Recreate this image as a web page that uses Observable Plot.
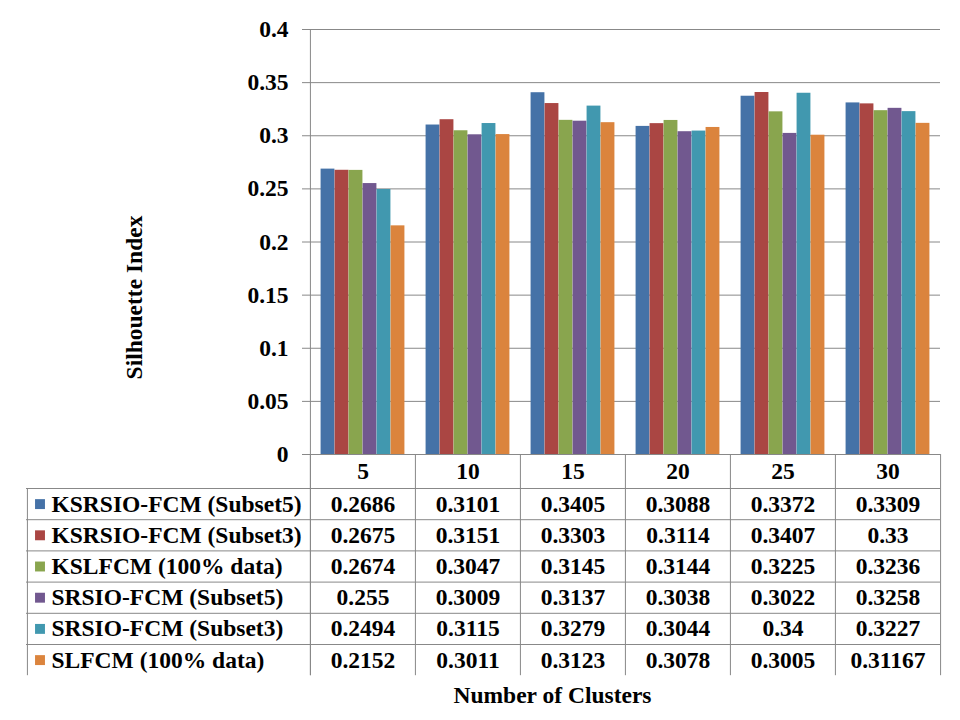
<!DOCTYPE html>
<html>
<head>
<meta charset="utf-8">
<script src="https://cdn.jsdelivr.net/npm/d3@7"></script>
<script src="https://cdn.jsdelivr.net/npm/@observablehq/plot@0.6"></script>
<style>
  html, body { margin: 0; padding: 0; background: #fff; }
  #chart { width: 960px; height: 720px; }
</style>
</head>
<body>
<div id="chart"></div>
<script>
// ---- data ----
const clusters = ["5", "10", "15", "20", "25", "30"];
const seriesNames = [
  "KSRSIO-FCM (Subset5)",
  "KSRSIO-FCM (Subset3)",
  "KSLFCM (100% data)",
  "SRSIO-FCM (Subset5)",
  "SRSIO-FCM (Subset3)",
  "SLFCM (100% data)"
];
const ksrsioSubset5 = [0.2686, 0.3101, 0.3405, 0.3088, 0.3372, 0.3309];
const ksrsioSubset3 = [0.2675, 0.3151, 0.3303, 0.3114, 0.3407, 0.33];
const kslfcm = [0.2674, 0.3047, 0.3145, 0.3144, 0.3225, 0.3236];
const srsioSubset5 = [0.255, 0.3009, 0.3137, 0.3038, 0.3022, 0.3258];
const srsioSubset3 = [0.2494, 0.3115, 0.3279, 0.3044, 0.34, 0.3227];
const slfcm = [0.2152, 0.3011, 0.3123, 0.3078, 0.3005, 0.31167];
const yTicks = [0, 0.05, 0.1, 0.15, 0.2, 0.25, 0.3, 0.35, 0.4];
const yTickLabels = ["0", "0.05", "0.1", "0.15", "0.2", "0.25", "0.3", "0.35", "0.4"];
const colors = ["#4572A7", "#AA4643", "#89A54E", "#71588F", "#4198AF", "#DB843D"];
const seriesValues = [ksrsioSubset5, ksrsioSubset3, kslfcm, srsioSubset5, srsioSubset3, slfcm];

// ---- layout ----
const W = 960, H = 720;
const mL = 309, mR = 20, mT = 29, mB = 266;
const bw = (W - mL - mR) / clusters.length;   // band width
const barW = 14;
const groupPad = (bw - barW * seriesNames.length) / 2;
const gray = "#888888";
const font = "'Liberation Serif', 'Times New Roman', serif";
const fs = 23.5;
const headerH = 34;      // header row below the axis
const rowH = 31.2;       // table row height
const tableLeft = 26;
const tableBottom = headerH + rowH * seriesNames.length;
const frameMidY = (mT + (H - mB)) / 2;

const rows = [];
clusters.forEach((c, i) => seriesNames.forEach((s, j) => rows.push({cluster: c, series: s, si: j, value: seriesValues[j][i]})));

const txt = {fontSize: fs, fontWeight: "bold", fill: "#000", lineAnchor: "middle"};

const marks = [];
// gridlines
marks.push(Plot.gridY(yTicks, {stroke: gray, strokeOpacity: 1, strokeWidth: 1}));
// bars, one mark per series positioned within the band
seriesNames.forEach((s, j) => {
  marks.push(Plot.barY(rows.filter(d => d.si === j), {
    x: "cluster", y: "value", fill: colors[j],
    insetLeft: groupPad + barW * j,
    insetRight: bw - groupPad - barW * (j + 1)
  }));
});
// y axis
marks.push(Plot.axisY(yTicks, {
  tickSize: 7, tickPadding: 14, stroke: gray, fontSize: fs, fontWeight: "bold",
  tickFormat: (d) => yTickLabels[yTicks.indexOf(d)], label: null, fill: "#000"
}));
// baseline (x axis) including tick extension
marks.push(Plot.ruleY([0], {stroke: gray, insetLeft: -7}));
// table horizontal lines
for (let r = 0; r < seriesNames.length; r++) {
  marks.push(Plot.ruleY([0], {stroke: gray, dy: headerH + rowH * r, insetLeft: tableLeft - mL}));
}
// vertical lines: left axis line through table
marks.push(Plot.ruleX([clusters[0]], {x: d => d, dx: -bw / 2, stroke: gray, insetBottom: -tableBottom}));
// column separators in header + table
marks.push(Plot.ruleX(clusters, {x: d => d, dx: -bw / 2, stroke: gray, insetTop: H - mT - mB, insetBottom: -tableBottom}));
marks.push(Plot.ruleX([clusters[clusters.length - 1]], {x: d => d, dx: bw / 2, stroke: gray, insetTop: H - mT - mB, insetBottom: -tableBottom}));
// table left border
marks.push(Plot.ruleX([clusters[0]], {x: d => d, dx: -bw / 2 + tableLeft - mL, stroke: gray, insetTop: H - mT - mB + headerH, insetBottom: -tableBottom}));
// header labels
marks.push(Plot.text(clusters, {x: d => d, frameAnchor: "bottom", dy: headerH / 2, text: d => d, textAnchor: "middle", ...txt}));
// table values + legend labels
seriesNames.forEach((s, j) => {
  const cy = headerH + rowH * j + rowH / 2;
  marks.push(Plot.text(rows.filter(d => d.si === j), {
    x: "cluster", frameAnchor: "bottom", dy: cy, text: d => String(d.value), textAnchor: "middle", ...txt
  }));
  marks.push(Plot.dot([s], {
    frameAnchor: "bottom-left", dx: 39.5 - mL, dy: cy, symbol: "square", r: 5.6, fill: colors[j], stroke: null
  }));
  marks.push(Plot.text([s], {
    frameAnchor: "bottom-left", dx: 51 - mL, dy: cy, text: d => d, textAnchor: "start", ...txt
  }));
});
// axis titles
marks.push(Plot.text(["Silhouette Index"], {
  frameAnchor: "left", dx: 134 - mL, dy: 297 - frameMidY, rotate: -90,
  text: d => d, textAnchor: "middle", ...txt
}));
marks.push(Plot.text(["Number of Clusters"], {
  frameAnchor: "bottom-left", dx: 552 - mL, dy: 695 - (H - mB), textAnchor: "middle",
  text: d => d, ...txt
}));

const chart = Plot.plot({
  width: W, height: H,
  marginLeft: mL, marginRight: mR, marginTop: mT, marginBottom: mB,
  style: {fontFamily: font, background: "#fff", color: "#000"},
  x: {type: "band", domain: clusters, padding: 0, axis: null},
  y: {domain: [0, 0.4], axis: null},
  marks
});
document.getElementById("chart").appendChild(chart);
</script>
</body>
</html>
